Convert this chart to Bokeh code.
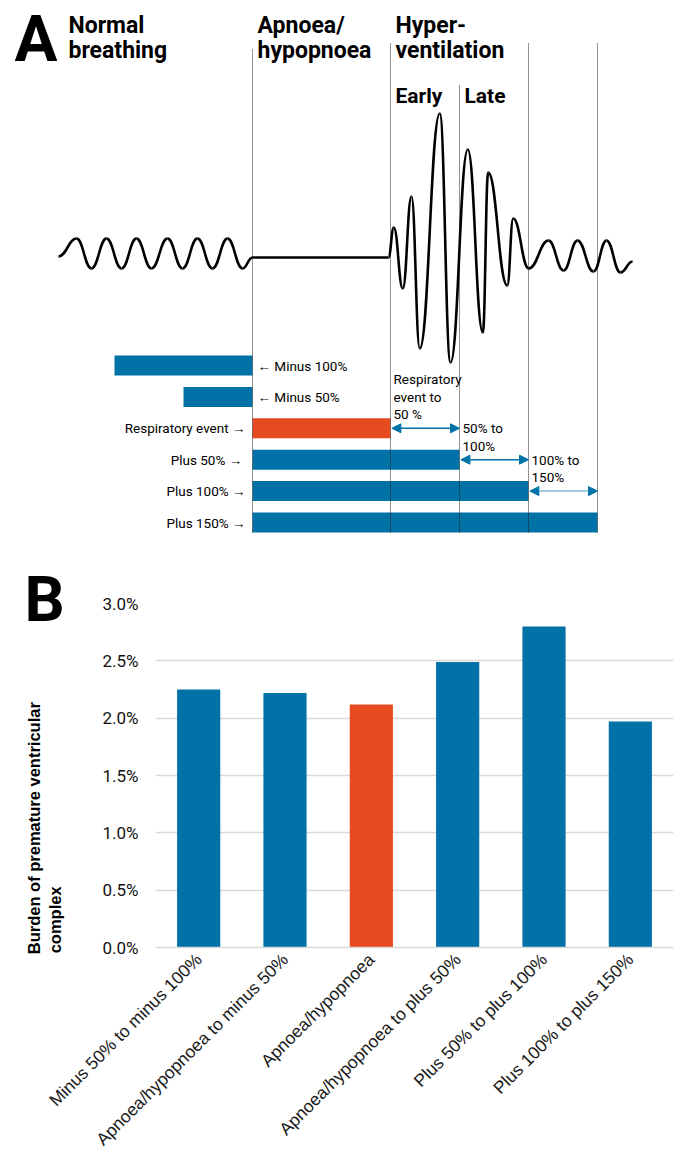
import math
from bokeh.plotting import figure
from bokeh.models import Range1d, Label, Title, Arrow, NormalHead, FixedTicker, PrintfTickFormatter
from bokeh.embed import file_html
from bokeh.resources import INLINE
from bokeh.core.properties import value

BLUE = "#0072a7"
ORANGE = "#e54b1e"
SMALL_FONT = "Roboto"
HEAD_FONT = "Roboto"
W = 676

# ---------------- Panel A data (time in % of respiratory-event duration) ----------------
phase_bounds = [0, 100, 150, 200, 250]
phase_headers = ["Normal\nbreathing", "Apnoea/\nhypopnoea", "Hyper-\nventilation"]
phase_header_x = [-140.6, 0, 100]
sub_headers = ["Early", "Late"]
sub_header_x = [100, 150]

window_labels = ["Minus 100%", "Minus 50%", "Respiratory event", "Plus  50%", "Plus 100%", "Plus 150%"]
window_start = [-100, -50, 0, 0, 0, 0]
window_end = [0, 0, 100, 150, 200, 250]
window_is_event = [False, False, True, False, False, False]

arrow_from = [100, 150, 200]
arrow_to = [150, 200, 250]
arrow_row = [2, 3, 4]
arrow_text = [["Respiratory", "event to", "50 %"], ["50% to", "100%"], ["100% to", "150%"]]

# breathing trace: turning points (time, amplitude)
wave_t = [-140.6, -127.5, -116.7, -105.8, -94.9, -84.1, -73.2, -61.6, -50.7, -39.9, -29.0,
          -18.1, -7.2, 0.0, 98.5, 102.4, 108.9, 115.2, 121.2, 135.7, 143.5, 156.0, 166.9,
          170.8, 184.6, 188.9, 200.2, 214.5, 225.4, 235.5, 247.1, 256.5, 266.7, 275.4]
wave_amp = [1, 19, -11, 19, -11, 19, -11, 19, -11, 19, -11,
            19, -11, 0, 0, 30, -31, 61, -91, 144, -105, 108, -75,
            85, -28, 39, -11, 17, -13, 17, -14, 17, -15, -4]

# ---------------- Panel B data ----------------
categories = ["Minus 50% to minus 100%", "Apnoea/hypopnoea to minus 50%", "Apnoea/hypopnoea",
              "Apnoea/hypopnoea to plus 50%", "Plus 50% to plus 100%", "Plus 100% to plus 150%"]
pvc_burden = [2.25, 2.22, 2.12, 2.49, 2.80, 1.97]
highlight = [False, False, True, False, False, False]
y_ticks = [0.0, 0.5, 1.0, 1.5, 2.0, 2.5, 3.0]
y_title_lines = ["Burden of premature ventricular", "complex"]

# ================= Panel A =================
PX = 1.38          # pixels per % unit
X0_PX = 252        # where the respiratory event starts
BASE_PX = 257      # flat apnoea line
A_H = 560
pA = figure(width=W, height=A_H, x_range=Range1d(-X0_PX / PX, (W - X0_PX) / PX),
            y_range=Range1d(BASE_PX - A_H, BASE_PX), output_backend="svg", toolbar_location=None,
            x_axis_type=None, y_axis_type=None, min_border=0, outline_line_color=None)
pA.xgrid.visible = False
pA.ygrid.visible = False

ROW0, ROW_STEP = -108, -31.4
row_y = [ROW0 + i * ROW_STEP for i in range(len(window_labels))]

pA.hbar(y=row_y, left=window_start, right=window_end, height=20,
        fill_color=[ORANGE if e else BLUE for e in window_is_event], line_color=None)

# dotted phase boundaries
tops = [208, 214, 172, 214, 214]
pA.segment(x0=phase_bounds, y0=[row_y[-1] - 10] * len(phase_bounds), x1=phase_bounds, y1=tops,
           line_color="#222222", line_width=1, line_dash="1 1")

# breathing trace as smooth bezier segments between turning points
k = 0.45
x0 = wave_t[:-1]; x1 = wave_t[1:]
y0 = wave_amp[:-1]; y1 = wave_amp[1:]
cx0 = [a + k * (b - a) for a, b in zip(x0, x1)]
cx1 = [b - k * (b - a) for a, b in zip(x0, x1)]
pA.bezier(x0=x0, y0=y0, x1=x1, y1=y1, cx0=cx0, cy0=y0, cx1=cx1, cy1=y1,
          line_color="black", line_width=2.6)

# headers
for hx, txt in zip(phase_header_x, phase_headers):
    off = 10 if hx < 0 else 5
    for j, line in enumerate(txt.split("\n")):
        pA.text(x=[hx], y=[232 - 25 * j], text=[line], x_offset=off,
                text_font=value(HEAD_FONT), text_font_style="bold", text_font_size="23px",
                text_color="black", text_align="left", text_baseline="alphabetic")
pA.text(x=sub_header_x, y=[162, 162], text=sub_headers, x_offset=5,
        text_font=value(HEAD_FONT), text_font_style="bold", text_font_size="21px",
        text_color="black", text_align="left", text_baseline="alphabetic")

# window labels
for i, lab in enumerate(window_labels):
    if window_end[i] <= 0:
        pA.text(x=[window_end[i]], y=[row_y[i]], text=["\u2190 " + lab], x_offset=5,
                text_font=value(SMALL_FONT), text_font_size="13.5px", text_color="black",
                text_align="left", text_baseline="middle")
    else:
        pA.text(x=[window_start[i]], y=[row_y[i]], text=[lab + " \u2192"], x_offset=-7,
                text_font=value(SMALL_FONT), text_font_size="13.5px", text_color="black",
                text_align="right", text_baseline="middle")

# arrows with labels
shaft_colors = [BLUE, BLUE, "#7fb8d8"]
for a, b, r, lines, sc in zip(arrow_from, arrow_to, arrow_row, arrow_text, shaft_colors):
    pA.add_layout(Arrow(start=NormalHead(size=9, fill_color=BLUE, line_color=BLUE, line_width=1),
                        end=NormalHead(size=9, fill_color=BLUE, line_color=BLUE, line_width=1),
                        x_start=a + 1, y_start=row_y[r], x_end=b, y_end=row_y[r],
                        line_color=sc, line_width=1.5))
    for j, line in enumerate(reversed(lines)):
        pA.text(x=[a], y=[row_y[r] + 14 + 17.5 * j], text=[line], x_offset=3,
                text_font=value(SMALL_FONT), text_font_size="13.5px", text_color="black",
                text_align="left", text_baseline="middle")

pA.add_layout(Label(x=(14 - X0_PX) / PX, y=BASE_PX - 39, text="A", text_font=HEAD_FONT,
                    text_font_style="bold", text_font_size="64px", text_color="black",
                    text_baseline="alphabetic"))

# ================= Panel B =================
xs = list(range(len(categories)))
B_H = 1159 - A_H
FRAME_L, FRAME_R, FRAME_T, FRAME_B = 155, 673, 603, 949
pB = figure(width=W, height=B_H, x_range=Range1d(-0.5, len(categories) - 0.5),
            y_range=Range1d(0, 3.0), output_backend="svg", toolbar_location=None,
            min_border_left=FRAME_L, min_border_right=W - FRAME_R,
            min_border_top=FRAME_T - A_H, min_border_bottom=A_H + B_H - FRAME_B,
            outline_line_color=None)
pB.vbar(x=xs, top=pvc_burden, width=0.5,
        fill_color=[ORANGE if h else BLUE for h in highlight], line_color=None)

pB.xgrid.visible = False
pB.ygrid.ticker = FixedTicker(ticks=y_ticks)
pB.ygrid.grid_line_color = "#d9d9d9"
pB.ygrid.grid_line_width = 1.5

pB.yaxis.ticker = FixedTicker(ticks=y_ticks)
pB.yaxis.formatter = PrintfTickFormatter(format="%.1f%%")
pB.yaxis.axis_line_color = None
pB.yaxis.major_tick_line_color = None
pB.yaxis.minor_tick_line_color = None
pB.yaxis.major_tick_out = 0
pB.yaxis.minor_tick_out = 0
pB.yaxis.major_label_standoff = 17
pB.yaxis.major_label_text_font = SMALL_FONT
pB.yaxis.major_label_text_font_size = "17px"
pB.yaxis.major_label_text_color = "#111111"

# axis title: two lines, both starting near the bottom of the axis (as in the original);
# the centred label block is padded at its end with no-break spaces
NBSP = "\u00a0"
pad = [23, 63]
pB.yaxis.axis_label = "\n".join(t + NBSP * n for t, n in zip(y_title_lines, pad))
pB.yaxis.axis_label_standoff = 35
pB.yaxis.axis_label_text_font = "Liberation Sans"
pB.yaxis.axis_label_text_font_style = "bold"
pB.yaxis.axis_label_text_font_size = "16.5px"
pB.yaxis.axis_label_text_color = "black"

pB.xaxis.ticker = FixedTicker(ticks=xs)
pB.xaxis.major_label_overrides = {i: c for i, c in enumerate(categories)}
pB.xaxis.major_label_orientation = math.pi / 4
pB.xaxis.axis_line_color = "#d9d9d9"
pB.xaxis.axis_line_width = 1.5
pB.xaxis.major_tick_line_color = None
pB.xaxis.major_tick_out = 0
pB.xaxis.minor_tick_line_color = None
pB.xaxis.minor_tick_out = 0
pB.xaxis.major_label_standoff = 9
pB.xaxis.major_label_text_font = "Liberation Sans"
pB.xaxis.major_label_text_font_size = "17.5px"
pB.xaxis.major_label_text_color = "#1a1a1a"

# panel letter as a left-aligned title pulled down beside the top gridline
pB.add_layout(Title(text="B", align="left", offset=24 - FRAME_L, standoff=-64,
                    vertical_align="bottom", text_font=HEAD_FONT, text_font_style="bold",
                    text_font_size="63px", text_color="black"), "above")

open("out.html", "w").write(file_html([pA, pB], INLINE))
